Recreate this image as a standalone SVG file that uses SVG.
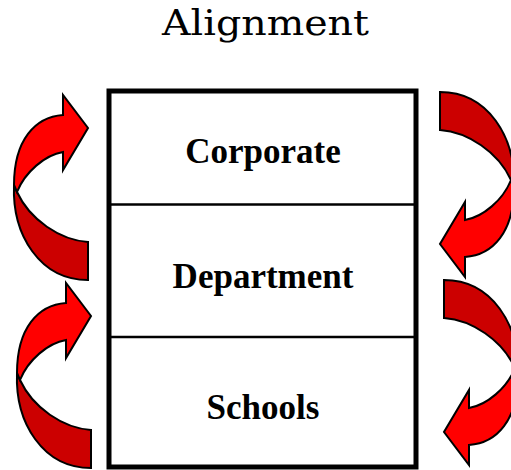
<svg xmlns="http://www.w3.org/2000/svg" xmlns:xlink="http://www.w3.org/1999/xlink" width="511" height="470" viewBox="0 0 511 470">
<style>
.front{fill:#ff0000;stroke:#000;stroke-width:2;stroke-linejoin:miter}
.back{fill:#cc0000;stroke:#000;stroke-width:2;stroke-linejoin:miter}
.lbl{font-family:"Liberation Serif","Times New Roman",serif;font-weight:bold;font-size:35px;fill:#000;text-anchor:middle}
.title{font-family:"DejaVu Serif","Liberation Serif",serif;font-size:36px;fill:#000;text-anchor:middle}
</style>
<defs>
<g id="curvedArrow">
<path class="back" d="M14,185 C12,235 40,280 88,280 L88,242 C60,240 30,220 17,192 Z"/>
<path class="front" d="M14,185 C14,140 35,117 63,115 L63,95 L88,128 L63,170 L63,152 C45,155 25,172 17,192 Z"/>
</g>
</defs>
<rect width="511" height="470" fill="#fff"/>
<text class="title" x="265.5" y="35" textLength="207" lengthAdjust="spacingAndGlyphs">Alignment</text>
<g id="box">
<rect x="109" y="91" width="307" height="376" fill="#fff" stroke="#000" stroke-width="5"/>
</g>
<g id="connectors">
<line x1="111" y1="204.5" x2="414" y2="204.5" stroke="#000" stroke-width="2.5"/>
<line x1="111" y1="337" x2="414" y2="337" stroke="#000" stroke-width="2.5"/>
<use xlink:href="#curvedArrow" href="#curvedArrow"/>
<use xlink:href="#curvedArrow" href="#curvedArrow" transform="translate(3,188)"/>
<use xlink:href="#curvedArrow" href="#curvedArrow" transform="matrix(-1,0,0,-1,528,372)"/>
<use xlink:href="#curvedArrow" href="#curvedArrow" transform="matrix(-1,0,0,-1,532,560)"/>
</g>
<g id="corporate"><text class="lbl" x="263" y="163">Corporate</text></g>
<g id="department"><text class="lbl" x="263" y="288">Department</text></g>
<g id="schools"><text class="lbl" x="263" y="419">Schools</text></g>
</svg>
